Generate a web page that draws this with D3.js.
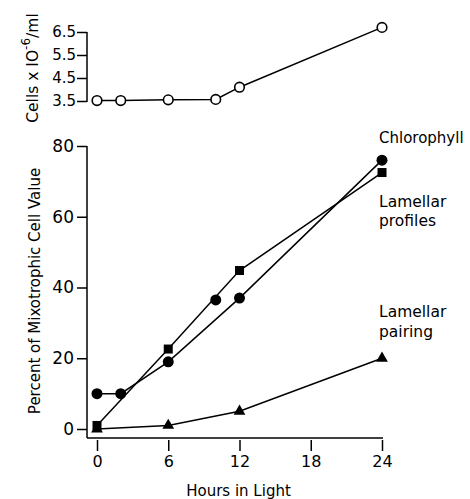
<!DOCTYPE html>
<html>
<head>
<meta charset="utf-8">
<script src="https://cdn.jsdelivr.net/npm/d3@7"></script>
<style>
body{margin:0;background:#fff;}
text{font-family:"DejaVu Sans",sans-serif;fill:#000;}
.axis path,.axis line{stroke:#000;stroke-width:1.5;}
.axis text{font-size:17px;}
</style>
</head>
<body>
<script>
// hours in light
var cellHours = [0, 2, 6, 10, 12, 24];
var cellValues = [3.52, 3.52, 3.55, 3.57, 4.1, 6.7];

var chlHours = [0, 2, 6, 12, 24];
var chlValues = [10, 10, 19, 37, 76];
// lone chlorophyll point at 10 h (not joined)
var chlExtraHours = [10];
var chlExtraValues = [36.5];

var profHours = [0, 6, 12, 24];
var profValues = [1, 22.6, 44.8, 72.5];

var pairHours = [0, 6, 12, 24];
var pairValues = [0, 1, 5, 20];

var xTicks = [0, 6, 12, 18, 24];
var yTicks = [0, 20, 40, 60, 80];
var cellTicks = [3.5, 4.5, 5.5, 6.5];

function pts(h, v){ return h.map((d,i)=>({h:d, v:v[i]})); }

var svg = d3.select("body").append("svg").attr("width",470).attr("height",499);

var x = d3.scaleLinear().domain([0,24]).range([97,382]);
var y = d3.scaleLinear().domain([0,80]).range([429,146]);
var yc = d3.scaleLinear().domain([3.5,6.5]).range([101,32]);

// ---- top panel: cells ----
var gTop = svg.append("g").attr("class","axis").attr("transform","translate(87,0)")
  .call(d3.axisLeft(yc).tickValues(cellTicks).tickFormat(d3.format(".1f")).tickSize(10).tickSizeOuter(0));
gTop.select(".domain").remove();
gTop.selectAll("text").style("font-size","15px").attr("x",-11);
svg.append("line").attr("x1",87).attr("x2",87).attr("y1",yc(6.5)).attr("y2",yc(3.5)+1)
  .attr("stroke","#000").attr("stroke-width",1.5);

var line = d3.line().x(d=>x(d.h));
svg.append("path").datum(pts(cellHours,cellValues))
  .attr("d", line.y(d=>yc(d.v))).attr("fill","none").attr("stroke","#000").attr("stroke-width",1.5);
svg.selectAll(".cell").data(pts(cellHours,cellValues)).enter().append("circle")
  .attr("cx",d=>x(d.h)).attr("cy",d=>yc(d.v)).attr("r",4.8)
  .attr("fill","#fff").attr("stroke","#000").attr("stroke-width",1.6);

var cl = svg.append("text").attr("transform","translate(38,68) rotate(-90)")
  .attr("text-anchor","middle").style("font-size","15.5px");
cl.append("tspan").text("Cells x IO");
cl.append("tspan").attr("dy",-8).style("font-size","12px").text("-6");
cl.append("tspan").attr("dy",8).text("/ml");

// ---- lower panel ----
var gy = svg.append("g").attr("class","axis").attr("transform","translate(87,0)")
  .call(d3.axisLeft(y).tickValues(yTicks).tickSize(10).tickSizeOuter(0));
gy.select(".domain").remove();
gy.selectAll("text").attr("x",-13);
svg.append("line").attr("x1",87).attr("x2",87).attr("y1",y(80)).attr("y2",438)
  .attr("stroke","#000").attr("stroke-width",1.5);

var gx = svg.append("g").attr("class","axis").attr("transform","translate(0,440)")
  .call(d3.axisBottom(x).tickValues(xTicks).tickSize(11).tickSizeOuter(0));
gx.select(".domain").remove();
gx.selectAll("text").attr("y",16).style("font-size","16px");
svg.append("line").attr("x1",87).attr("x2",x(24)+1).attr("y1",438).attr("y2",438)
  .attr("stroke","#000").attr("stroke-width",1.5);

svg.append("text").attr("x",(x(0)+x(24))/2-1).attr("y",496).attr("text-anchor","middle")
  .style("font-size","15px").text("Hours in Light");
svg.append("text").attr("transform","translate(40,291) rotate(-90)").attr("text-anchor","middle")
  .style("font-size","15px").text("Percent of Mixotrophic Cell Value");

function drawLine(h, v){
  svg.append("path").datum(pts(h,v))
    .attr("d", d3.line().x(d=>x(d.h)).y(d=>y(d.v)))
    .attr("fill","none").attr("stroke","#000").attr("stroke-width",1.5);
}
drawLine(chlHours, chlValues);
drawLine(profHours, profValues);
drawLine(pairHours, pairValues);

svg.selectAll(".chl").data(pts(chlHours.concat(chlExtraHours), chlValues.concat(chlExtraValues)))
  .enter().append("circle").attr("cx",d=>x(d.h)).attr("cy",d=>y(d.v)).attr("r",5.5).attr("fill","#000");
svg.selectAll(".prof").data(pts(profHours,profValues)).enter().append("rect")
  .attr("x",d=>x(d.h)-4.5).attr("y",d=>y(d.v)-4.5).attr("width",9).attr("height",9).attr("fill","#000");
svg.selectAll(".pair").data(pts(pairHours,pairValues)).enter().append("path")
  .attr("transform",d=>"translate("+x(d.h)+","+y(d.v)+")")
  .attr("d", d3.symbol().type(d3.symbolTriangle).size(60)).attr("fill","#000");

// series labels
var lx = x(24)-3;
svg.append("text").attr("x",lx).attr("y",143).style("font-size","15px").text("Chlorophyll");
svg.append("text").attr("x",lx).attr("y",207).style("font-size","15.5px").text("Lamellar");
svg.append("text").attr("x",lx).attr("y",226).style("font-size","15.5px").text("profiles");
svg.append("text").attr("x",lx).attr("y",317).style("font-size","15.5px").text("Lamellar");
svg.append("text").attr("x",lx).attr("y",337).style("font-size","15.5px").text("pairing");
</script>
</body>
</html>
